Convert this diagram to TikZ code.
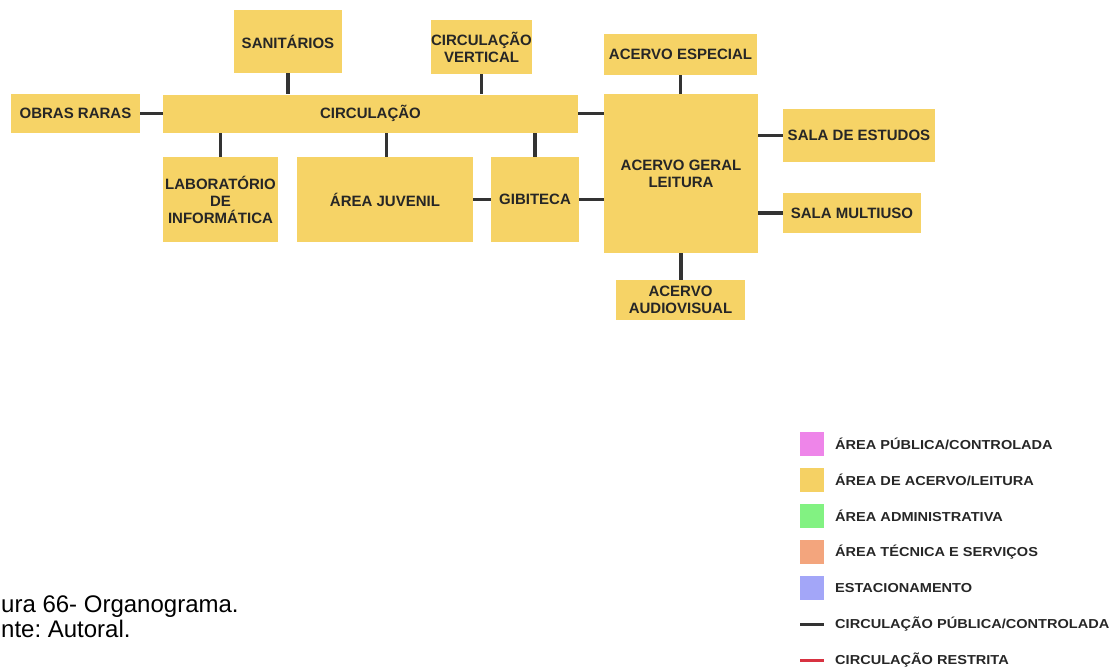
\documentclass[tikz,border=0pt]{standalone}
\usepackage{fontspec}
\setmainfont{Liberation Sans}
\usepackage{graphicx}
\frenchspacing
\definecolor{boxy}{HTML}{F6D366}
\definecolor{txt}{HTML}{262626}
\definecolor{conn}{HTML}{333333}
\definecolor{lgpink}{HTML}{EE85E9}
\definecolor{lgyellow}{HTML}{F5D164}
\definecolor{lggreen}{HTML}{82F282}
\definecolor{lgorange}{HTML}{F3A57D}
\definecolor{lgblue}{HTML}{A3A6F8}
\definecolor{lgred}{HTML}{D83241}
\tikzset{
  box/.style={fill=boxy, draw=none, inner sep=0pt, align=center, text=txt,
    font=\bfseries\fontsize{15}{17}\selectfont},
  link/.style={draw=conn, line width=3.5pt},
  swatch/.style={minimum width=24pt, minimum height=24pt, inner sep=0pt, draw=none},
  lgtext/.style={anchor=west, inner sep=0pt, text=txt, font=\bfseries\fontsize{13}{15}\selectfont},
  capt/.style={anchor=base west, inner sep=0pt, text=black, font=\fontsize{24}{26}\selectfont}
}
\newcommand{\lgx}[1]{\scalebox{1.12}[1]{#1}}
\begin{document}
\begin{tikzpicture}[x=1pt, y=-1pt]
\useasboundingbox (0,0) rectangle (1112,670);
% boxes
\node[box, minimum width=108pt, minimum height=63pt] (san) at (288,41.5) {SANITÁRIOS};
\node[box, minimum width=99pt, minimum height=54pt] (cv) at (481.5,47) {CIRCULAÇÃO\\VERTICAL};
\node[box, minimum width=153pt, minimum height=41pt] (ae) at (680.5,54.5) {ACERVO ESPECIAL};
\node[box, minimum width=129pt, minimum height=39pt] (obras) at (75.5,113.5) {OBRAS RARAS};
\node[box, minimum width=415pt, minimum height=38pt] (circ) at (370.5,113.5) {CIRCULAÇÃO};
\node[box, minimum width=154pt, minimum height=159pt] (ag) at (681,173.5) {ACERVO GERAL\\LEITURA};
\node[box, minimum width=152pt, minimum height=53pt] (se) at (859,135.5) {SALA DE ESTUDOS};
\node[box, minimum width=138pt, minimum height=40pt] (sm) at (852,213) {SALA MULTIUSO};
\node[box, minimum width=115pt, minimum height=85pt] (lab) at (220.5,199.5) {LABORATÓRIO\\DE\\INFORMÁTICA};
\node[box, minimum width=176pt, minimum height=85pt] (aj) at (385,199.5) {ÁREA JUVENIL};
\node[box, minimum width=88pt, minimum height=85pt] (gib) at (535,199.5) {GIBITECA};
\node[box, minimum width=129pt, minimum height=40pt] (av) at (680.5,300) {ACERVO\\AUDIOVISUAL};
% connectors
\draw[link] (san.south) -- (san.south |- circ.north);
\draw[link] (cv.south) -- (cv.south |- circ.north);
\draw[link] (ae.south) -- (ae.south |- ag.north);
\draw[link] (obras.east) -- (circ.west);
\draw[link] (circ.east) -- (circ.east -| ag.west);
\draw[link] (lab.north) -- (lab.north |- circ.south);
\draw[link] ([xshift=1.5pt]aj.north) -- ([xshift=1.5pt]aj.north |- circ.south);
\draw[link] (gib.north) -- (gib.north |- circ.south);
\draw[link] (aj.east) -- (gib.west);
\draw[link] (gib.east) -- (gib.east -| ag.west);
\draw[link] (se.west -| ag.east) -- (se.west);
\draw[link] (sm.west -| ag.east) -- (sm.west);
\draw[link] (ag.south) -- (ag.south |- av.north);
% legend
\node[swatch, fill=lgpink] (s1) at (812,444) {};
\node[swatch, fill=lgyellow] (s2) at (812,480) {};
\node[swatch, fill=lggreen] (s3) at (812,516) {};
\node[swatch, fill=lgorange] (s4) at (812,552) {};
\node[swatch, fill=lgblue] (s5) at (812,588) {};
\coordinate (l1a) at (800,624); \coordinate (l1b) at (824,624);
\coordinate (l2a) at (800,660); \coordinate (l2b) at (824,660);
\draw[draw=conn, line width=3pt] (l1a) -- (l1b);
\draw[draw=lgred, line width=3pt] (l2a) -- (l2b);
\node[lgtext] (t1) at (835,444) {\lgx{ÁREA PÚBLICA/CONTROLADA}};
\node[lgtext] (t2) at (835,480) {\lgx{ÁREA DE ACERVO/LEITURA}};
\node[lgtext] (t3) at (835,516) {\lgx{ÁREA ADMINISTRATIVA}};
\node[lgtext] (t4) at (835,552) {\lgx{ÁREA TÉCNICA E SERVIÇOS}};
\node[lgtext] (t5) at (835,588) {\lgx{ESTACIONAMENTO}};
\node[lgtext] (t6) at (835,624) {\lgx{CIRCULAÇÃO PÚBLICA/CONTROLADA}};
\node[lgtext] (t7) at (835,660) {\lgx{CIRCULAÇÃO RESTRITA}};
% caption
\node[capt] (c1) at (1,612) {ura 66- Organograma.};
\node[capt] (c2) at (1,637) {nte: Autoral.};
\end{tikzpicture}
\end{document}
